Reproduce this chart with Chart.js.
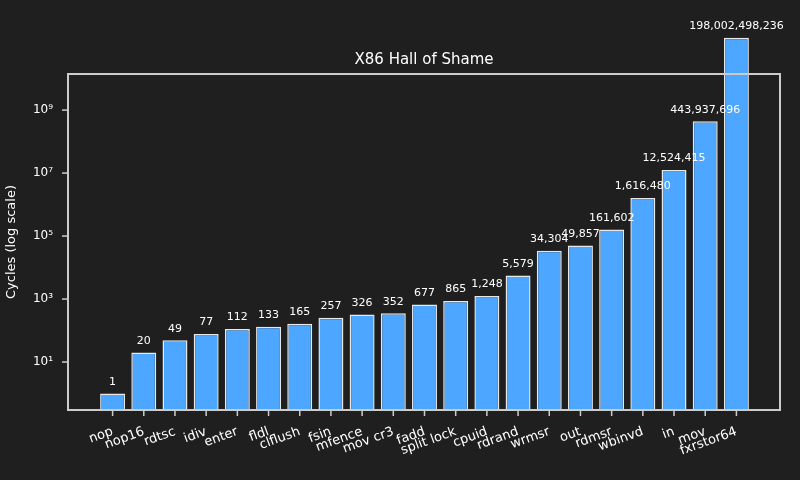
<!DOCTYPE html>
<html><head><meta charset="utf-8">
<script src="https://cdn.jsdelivr.net/npm/chart.js@4"></script>
<style>html,body{margin:0;background:#1f1f1f}#w{width:800px;height:480px}</style>
</head><body><div id="w"><canvas id="c"></canvas></div>
<script>
const categories=["nop","nop16","rdtsc","idiv","enter","fldl","clflush","fsin","mfence","mov cr3","fadd","split lock","cpuid","rdrand","wrmsr","out","rdmsr","wbinvd","in","mov","fxrstor64"];
const cycles=[1,20,49,77,112,133,165,257,326,352,677,865,1248,5579,34304,49857,161602,1616480,12524415,443937696,198002498236];
const yTicks=[10,1e3,1e5,1e7,1e9];
const yTickLabels=["10¹","10³","10⁵","10⁷","10⁹"];
const FONT="'DejaVu Sans'";
const frame={id:'frame',afterDraw(ch){const {ctx,chartArea:a}=ch;ctx.save();ctx.strokeStyle='#cccccc';ctx.lineWidth=2;
const L=a.left-29,R=a.right+28;ctx.strokeRect(L,a.top,R-L,a.bottom-a.top);
ctx.lineWidth=1.5;ch.scales.y.ticks.forEach(t=>{const y=ch.scales.y.getPixelForValue(t.value);ctx.beginPath();ctx.moveTo(L-6,y);ctx.lineTo(L,y);ctx.stroke();});
ctx.fillStyle='#ffffff';ctx.font='15px '+FONT;ctx.textAlign='center';ctx.textBaseline='bottom';ctx.fillText('X86 Hall of Shame',(L+R)/2,a.top-6);
const m=ch.getDatasetMeta(0);ctx.font='11px '+FONT;
m.data.forEach((b,i)=>{ctx.beginPath();ctx.moveTo(b.x,a.bottom);ctx.lineTo(b.x,a.bottom+6);ctx.stroke();ctx.fillText(cycles[i].toLocaleString('en-US'),b.x,b.y-6)});ctx.restore();}};
new Chart(document.getElementById('c'),{type:'bar',
data:{labels:categories,datasets:[{data:cycles,backgroundColor:'#4da6ff',borderColor:'#e8e8e8',borderWidth:1.5,barPercentage:0.8,categoryPercentage:1}]},
options:{responsive:true,maintainAspectRatio:false,animation:false,clip:false,
layout:{padding:{top:74,right:48,left:0,bottom:0}},
plugins:{legend:{display:false},tooltip:{enabled:false},title:{display:false}},
scales:{
x:{grid:{display:false},border:{display:false},ticks:{color:'#ffffff',font:{family:FONT,size:13},maxRotation:20,minRotation:20,autoSkip:false,padding:6},afterFit(s){s.height=70}},
y:{type:'logarithmic',min:0.3,max:1.4e10,grid:{display:false},border:{display:false},
afterBuildTicks(s){s.ticks=yTicks.map(v=>({value:v}))},
ticks:{color:'#ffffff',font:{family:FONT,size:12},padding:36,callback:(v)=>yTickLabels[yTicks.indexOf(v)]??''},
title:{display:true,text:'Cycles (log scale)',color:'#ffffff',font:{family:FONT,size:13}},
afterFit(s){s.width=97}}}},
plugins:[frame]});
</script></body></html>
